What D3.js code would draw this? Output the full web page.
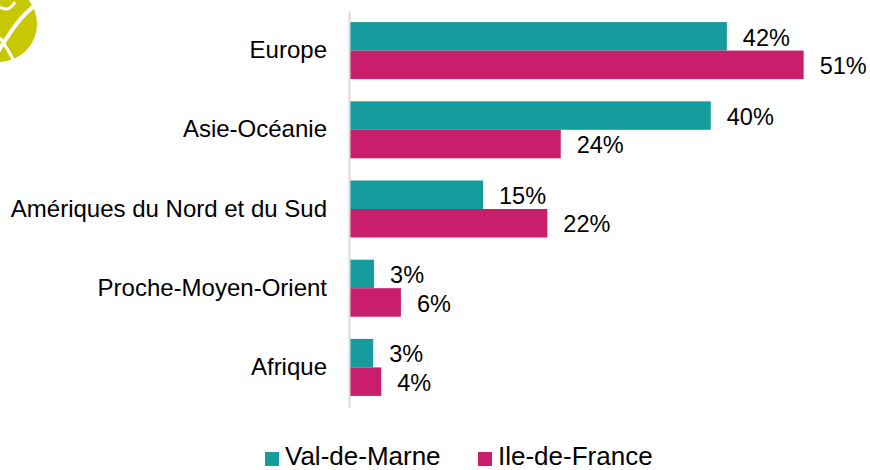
<!DOCTYPE html>
<html>
<head>
<meta charset="utf-8">
<script src="https://cdn.jsdelivr.net/npm/d3@7"></script>
<style>
  body { margin: 0; background: #fff; }
  text { font-family: "Liberation Sans", Arial, sans-serif; fill: #000; }
</style>
</head>
<body>
<div id="chart"></div>
<script>
(function () {

  // Data

  var categories = ["Europe", "Asie-Océanie", "Amériques du Nord et du Sud", "Proche-Moyen-Orient", "Afrique"]
  var seriesNames = ["Val-de-Marne", "Ile-de-France"]
  var valDeMarne = [42.2, 40.4, 14.9, 2.7, 2.6]
  var ileDeFrance = [50.8, 23.6, 22.1, 5.7, 3.5]
  var colors = ["#179c9e", "#c91e6b"]

  var width = 870,
      height = 470

  var svg = d3.select("#chart").append("svg")
      .attr("width", width)
      .attr("height", height)

  // Scales

  var x = d3.scaleLinear()
    .domain([0, 55])
    .range([350, 350 + 55 * 8.93])

  var y = d3.scaleBand()
    .domain(categories)
    .range([11, 407])
    .paddingInner(0.28)
    .paddingOuter(0.14)

  var y1 = d3.scaleBand()
    .domain(seriesNames)
    .range([0, y.bandwidth()])

  var rows = categories.map(function (c, i) {
    return { cat: c, values: [valDeMarne[i], ileDeFrance[i]] }
  })

  // Logo (partly cut off in the corner)

  var logo = svg.append("g")
  logo.append("circle")
    .attr("cx", -1)
    .attr("cy", 24)
    .attr("r", 38)
    .attr("fill", "#c8c800")
  logo.append("path")
    .attr("d", "M-2,52 C10,32 22,14 37,4")
    .attr("fill", "none")
    .attr("stroke", "#fff")
    .attr("stroke-width", 4)
  logo.append("path")
    .attr("d", "M0,38 C6,46 10,54 14,61")
    .attr("fill", "none")
    .attr("stroke", "#fff")
    .attr("stroke-width", 3)
  logo.append("path")
    .attr("d", "M0,7 C6,11 11,9 15,2")
    .attr("fill", "none")
    .attr("stroke", "#fff")
    .attr("stroke-width", 3)

  // Bars

  var groups = svg.selectAll(".group")
    .data(rows)
    .enter().append("g")
    .attr("class", "group")
    .attr("transform", function (d) { return "translate(0," + y(d.cat) + ")" })

  groups.selectAll("rect")
    .data(function (d) { return d.values })
    .enter().append("rect")
    .attr("x", x(0))
    .attr("y", function (d, i) { return y1(seriesNames[i]) })
    .attr("width", function (d) { return x(d) - x(0) })
    .attr("height", y1.bandwidth())
    .attr("fill", function (d, i) { return colors[i] })

  groups.selectAll(".label")
    .data(function (d) { return d.values })
    .enter().append("text")
    .attr("class", "label")
    .attr("x", function (d) { return x(d) + 16 })
    .attr("y", function (d, i) { return y1(seriesNames[i]) + y1.bandwidth() / 2 + 1 })
    .attr("dy", "0.35em")
    .style("font-size", "23.5px")
    .text(function (d) { return Math.round(d) + "%" })

  // Axis

  var axis = svg.append("g")
    .attr("transform", "translate(349,0)")
    .call(d3.axisLeft(y).tickSize(0).tickPadding(22))

  axis.select(".domain")
    .attr("stroke", "#d9d9d9")
    .attr("stroke-width", 2)
  axis.selectAll("text")
    .style("font-size", "24px")
    .style("font-family", "'Liberation Sans', Arial, sans-serif")
    .attr("fill", "#000")

  // Legend

  var legend = svg.selectAll(".legend")
    .data(seriesNames)
    .enter().append("g")
    .attr("class", "legend")
    .attr("transform", function (d, i) { return "translate(" + [265, 478][i] + ",452)" })

  legend.append("rect")
    .attr("width", 14)
    .attr("height", 14)
    .attr("fill", function (d, i) { return colors[i] })

  legend.append("text")
    .attr("x", 20)
    .attr("y", 13)
    .style("font-size", "26px")
    .text(function (d) { return d })

})()
</script>
</body>
</html>
